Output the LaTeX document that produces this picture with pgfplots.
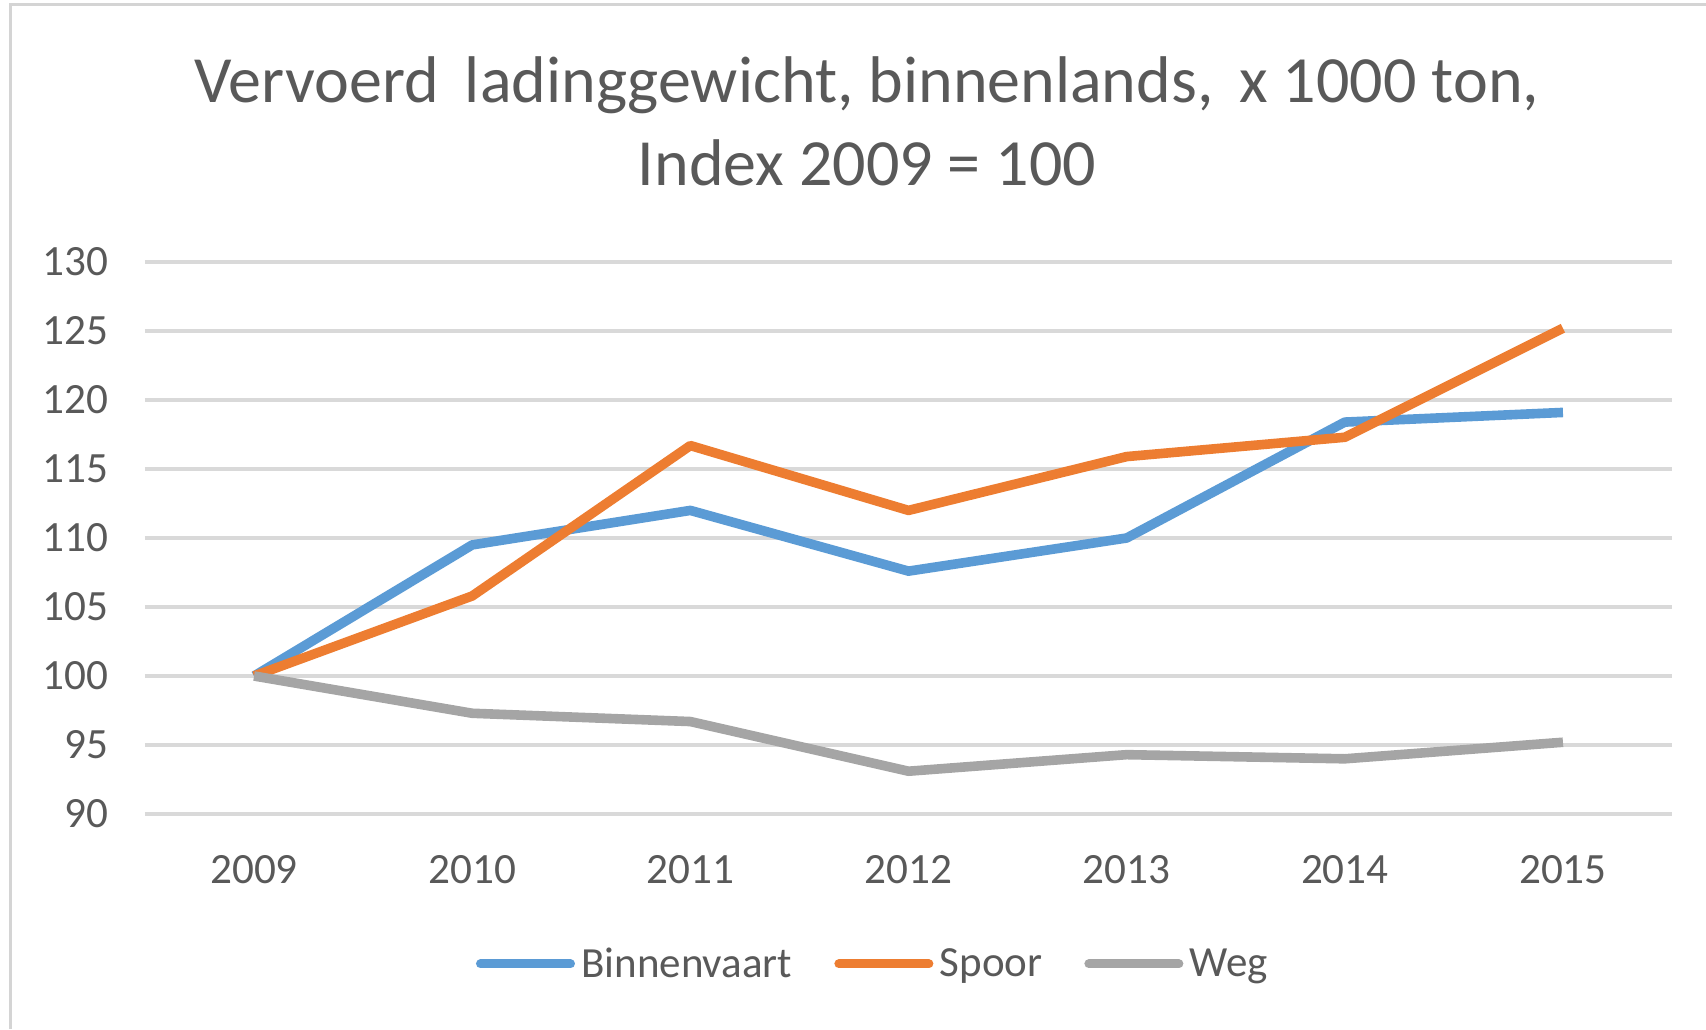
\documentclass[border=0pt]{standalone}
\usepackage{fontspec}
\setmainfont{Carlito}
\usepackage{pgfplots}
\pgfplotsset{compat=1.18}
\definecolor{cblue}{HTML}{5B9BD5}
\definecolor{corange}{HTML}{ED7D31}
\definecolor{cgray}{HTML}{A5A5A5}
\definecolor{cgrid}{HTML}{D9D9D9}
\definecolor{ctext}{HTML}{595959}
\definecolor{cborder}{HTML}{D4D4D4}
\begin{document}
\begin{tikzpicture}
\path[use as bounding box] (-72.5pt,-107.5pt) rectangle (780.5pt,407pt);
\draw[cborder, line width=1.5pt] (-67pt,-107.5pt) -- (-67pt,404.5pt) -- (780.5pt,404.5pt);
\node[ctext, font=\fontsize{33}{40}\selectfont, anchor=center] at (361pt,364.5pt) {Vervoerd\, ladinggewicht, binnenlands,\, x 1000 ton,};
\node[ctext, font=\fontsize{33}{40}\selectfont, anchor=center] at (361pt,325.5pt) {Index 2009 = 100};
\begin{axis}[
  at={(0pt,0pt)}, anchor=south west,
  scale only axis,
  width=763.5pt, height=276pt,
  xmin=-0.5, xmax=6.5,
  ymin=90, ymax=130,
  xtick={0,1,2,3,4,5,6},
  xticklabels={2009,2010,2011,2012,2013,2014,2015},
  ytick={90,95,100,105,110,115,120,125,130},
  major tick length=0pt,
  axis line style={draw=none},
  ymajorgrids,
  grid style={cgrid, line width=1.8pt},
  /pgf/number format/assume math mode=true,
  ticklabel style={ctext, font=\fontsize{21.6}{26}\selectfont},
  xticklabel style={anchor=center, yshift=-28pt},
  yticklabel style={anchor=east, inner sep=0pt, xshift=-18pt},
  legend style={at={(0.4774,-0.2717)}, anchor=center, draw=none, fill=none,
    legend columns=3, font=\fontsize{21.5}{26}\selectfont, text=ctext,
    /tikz/every even column/.append style={column sep=19pt},
    nodes={inner sep=2pt}},
  legend image code/.code={\draw[#1, line width=4.5pt, line cap=round] (0pt,0pt) -- (45pt,0pt); \path (46pt,0pt);},
  every axis plot/.append style={line width=4.8pt, line join=round},
]
\addplot[cblue, mark=none] coordinates {(0,100) (1,109.5) (2,112.0) (3,107.6) (4,110.0) (5,118.4) (6,119.1)};
\addlegendentry{Binnenvaart}
\addplot[corange, mark=none] coordinates {(0,100) (1,105.8) (2,116.7) (3,112.0) (4,115.9) (5,117.3) (6,125.2)};
\addlegendentry{Spoor}
\addplot[cgray, mark=none] coordinates {(0,100) (1,97.3) (2,96.7) (3,93.1) (4,94.3) (5,94.0) (6,95.2)};
\addlegendentry{Weg}
\end{axis}
\end{tikzpicture}
\end{document}
